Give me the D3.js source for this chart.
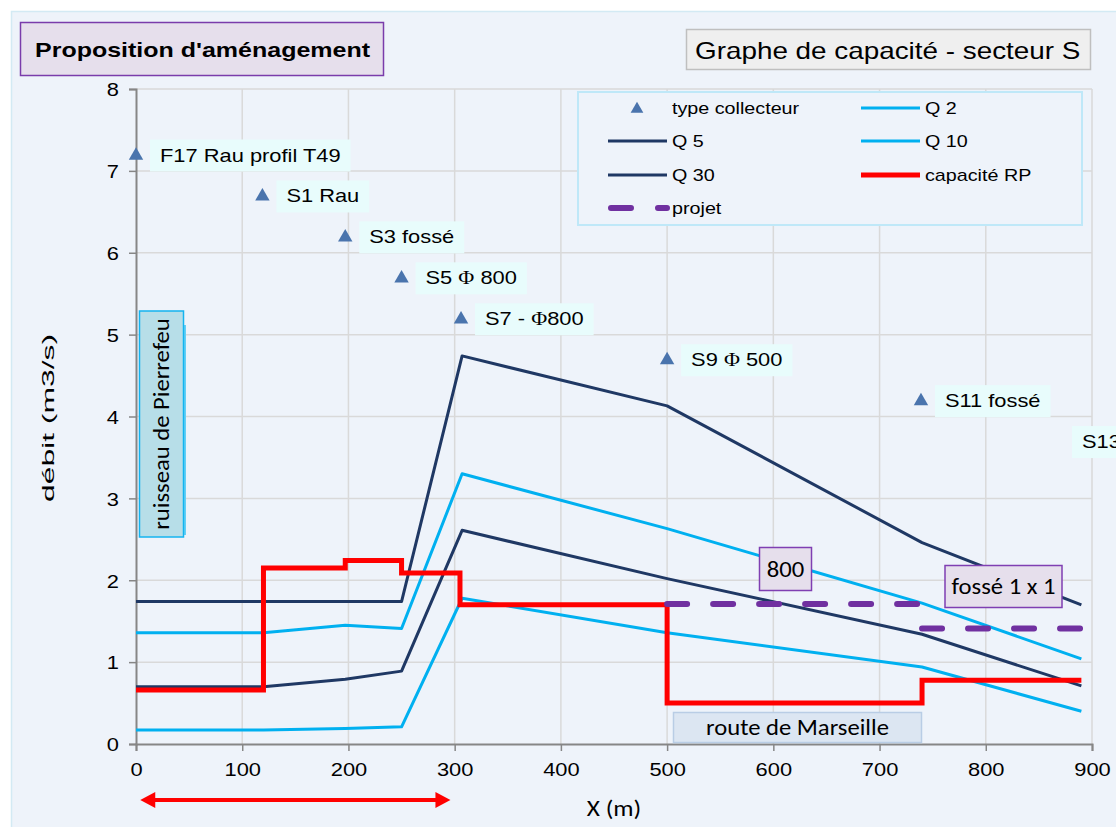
<!DOCTYPE html>
<html>
<head>
<meta charset="utf-8">
<script src="https://cdn.jsdelivr.net/npm/d3@7"></script>
<style>
  body { margin: 0; background: #fff; }
  text { font-family: "Liberation Sans", Arial, sans-serif; }
  .calib { font-family: Carlito, Lato, "Open Sans", sans-serif; }
</style>
</head>
<body>
<svg id="chart" width="1116" height="827"></svg>
<script>
// station abscissas (m) shared by the Q series
const stationX = [0, 120, 197, 250, 307, 500, 740, 890];
const q2  = [0.17, 0.17, 0.19, 0.21, 1.78, 1.36, 0.94, 0.40];
const q5  = [0.70, 0.70, 0.79, 0.89, 2.61, 2.02, 1.34, 0.71];
const q10 = [1.36, 1.36, 1.45, 1.41, 3.30, 2.63, 1.72, 1.04];
const q30 = [1.74, 1.74, 1.74, 1.74, 4.74, 4.13, 2.46, 1.70];

// capacité RP, step after
const capX = [0, 120, 197, 250, 305, 500, 740, 890];
const capY = [0.66, 2.15, 2.24, 2.09, 1.70, 0.50, 0.78, 0.78];

// projet (two dashed pieces)
const projetA = [[500, 1.71], [740, 1.71]];
const projetB = [[740, 1.41], [890, 1.41]];

// type collecteur
const collX = [0, 119, 197, 250, 306, 500, 739];
const collY = [7.2, 6.7, 6.2, 5.7, 5.2, 4.7, 4.2];
const collLabels = ["F17 Rau profil T49", "S1 Rau", "S3 fossé", "S5 Φ 800", "S7 - Φ800", "S9 Φ 500", "S11 fossé"];
// label with no visible marker
const extraLabel = {x: 868, y: 3.7, text: "S13"};

const xTicks = [0, 100, 200, 300, 400, 500, 600, 700, 800, 900];
const yTicks = [0, 1, 2, 3, 4, 5, 6, 7, 8];

const navy = "#1f3864", cyan = "#00b0f0", red = "#ff0000", purple = "#7030a0", tri = "#4a74ad";
const bg = "#eef3fa";

// the reference text runs wider than the local fonts
function stretch(sel, k) {
  sel.each(function() {
    let n = this.getComputedTextLength();
    d3.select(this).attr('textLength', n * k).attr('lengthAdjust', 'spacingAndGlyphs');
  });
  return sel;
}

let svg = d3.select('#chart');

// chart area
svg.append('rect').attr('x', 11.5).attr('y', 11.5).attr('width', 1110).attr('height', 820)
  .attr('fill', bg).attr('stroke', '#d3eaf4').attr('stroke-width', 1.5);

let x = d3.scaleLinear().domain([0, 900]).range([136, 1092]);
let y = d3.scaleLinear().domain([0, 8]).range([744, 89]);

// grid
let grid = svg.append('g');
grid.selectAll('.vg').data(xTicks.slice(1)).enter().append('line')
  .attr('x1', d => x(d)).attr('x2', d => x(d)).attr('y1', y(0)).attr('y2', y(8))
  .attr('stroke', '#d9d9d9').attr('stroke-width', 1.5);
grid.selectAll('.hg').data(yTicks.slice(1)).enter().append('line')
  .attr('x1', x(0)).attr('x2', x(900)).attr('y1', d => y(d)).attr('y2', d => y(d))
  .attr('stroke', '#d9d9d9').attr('stroke-width', 1.5);

// axes
let xAxis = d3.axisBottom(x).tickValues(xTicks).tickSize(7).tickPadding(12);
let gx = svg.append('g').attr('transform', `translate(0, ${y(0)})`).call(xAxis);
let yAxis = d3.axisLeft(y).tickValues(yTicks).tickSize(7).tickPadding(10);
let gy = svg.append('g').attr('transform', `translate(${x(0)}, 0)`).call(yAxis);
[gx, gy].forEach(g => {
  g.select('.domain').attr('stroke', '#868686').attr('stroke-width', 2);
  g.selectAll('.tick line').attr('stroke', '#868686').attr('stroke-width', 1.5);
  g.selectAll('text').style('font-size', '19px').attr('fill', '#000')
    .style('font-family', '"Liberation Sans", Arial, sans-serif');
  stretch(g.selectAll('text'), 1.15);
});
gy.selectAll('text').attr('dy', '0.36em');

// axis titles
svg.append('text').attr('transform', 'translate(54, 418) rotate(-90)')
  .attr('text-anchor', 'middle').style('font-size', '16px')
  .attr('textLength', 168).attr('lengthAdjust', 'spacingAndGlyphs')
  .text('débit (m3/s)');
stretch(svg.append('text').attr('class', 'calib').attr('x', 614).attr('y', 816)
  .attr('text-anchor', 'middle').style('font-size', '22px').text('X (m)'), 1.15);

// legend box
let lg = svg.append('g');
lg.append('rect').attr('x', 578).attr('y', 92).attr('width', 504).attr('height', 133)
  .attr('fill', bg).attr('stroke', '#bfe8f8').attr('stroke-width', 2);
let legendItems = [
  {label: 'type collecteur', kind: 'tri', col: 0, row: 0},
  {label: 'Q 2', color: cyan, w: 3, col: 1, row: 0},
  {label: 'Q 5', color: navy, w: 3, col: 0, row: 1},
  {label: 'Q 10', color: cyan, w: 3, col: 1, row: 1},
  {label: 'Q 30', color: navy, w: 3, col: 0, row: 2},
  {label: 'capacité RP', color: red, w: 5, col: 1, row: 2},
  {label: 'projet', color: purple, w: 6, dash: true, col: 0, row: 3}
];
let rowY = [108, 141, 175, 208];
let colX = [608, 861];
legendItems.forEach(it => {
  let lx = colX[it.col], ly = rowY[it.row];
  if (it.kind === 'tri') {
    lg.append('path').attr('d', d3.symbol(d3.symbolTriangle, 70)())
      .attr('transform', `translate(${lx + 29}, ${ly + 1})`).attr('fill', tri);
  } else {
    let l = lg.append('line').attr('x1', lx + (it.dash ? 3 : 0)).attr('x2', lx + 59)
      .attr('y1', ly).attr('y2', ly).attr('stroke', it.color).attr('stroke-width', it.w);
    if (it.dash) l.attr('stroke-dasharray', '20 27').attr('stroke-linecap', 'round');
  }
  stretch(lg.append('text').attr('x', lx + 64).attr('y', ly + 6).style('font-size', '17px').text(it.label), 1.16);
});

// Q series
let line = d3.line().x(d => x(d[0])).y(d => y(d[1]));
let series = [
  {vals: q2, color: cyan},
  {vals: q5, color: navy},
  {vals: q10, color: cyan},
  {vals: q30, color: navy}
];
series.forEach(s => {
  svg.append('path').datum(stationX.map((v, i) => [v, s.vals[i]]))
    .attr('d', line).attr('fill', 'none').attr('stroke', s.color).attr('stroke-width', 3)
    .attr('stroke-linejoin', 'round');
});

// capacité RP
let stepLine = d3.line().x(d => x(d[0])).y(d => y(d[1])).curve(d3.curveStepAfter);
svg.append('path').datum(capX.map((v, i) => [v, capY[i]]))
  .attr('d', stepLine).attr('fill', 'none').attr('stroke', red).attr('stroke-width', 5);

// projet
[projetA, projetB].forEach(p => {
  svg.append('path').datum(p).attr('d', line).attr('fill', 'none')
    .attr('stroke', purple).attr('stroke-width', 6).attr('stroke-linecap', 'round')
    .attr('stroke-dasharray', '20 26');
});

// collector markers + labels
let collData = collX.map((v, i) => ({x: v, y: collY[i], text: collLabels[i], marker: true}));
collData.push({x: extraLabel.x, y: extraLabel.y, text: extraLabel.text, marker: false});
collData.forEach(d => {
  let px = x(d.x), py = y(d.y);
  if (d.marker) {
    svg.append('path').attr('d', d3.symbol(d3.symbolTriangle, 90)())
      .attr('transform', `translate(${px}, ${py + 1})`).attr('fill', tri);
  }
  let g = svg.append('g');
  let box = g.append('rect').attr('fill', '#e8fcfc');
  let t = g.append('text').attr('x', px + 24).attr('y', py + 7).style('font-size', '19px');
  let parts = d.text.split('Φ');
  parts.forEach((p, i) => {
    if (i > 0) t.append('tspan').style('font-family', '"Liberation Serif", "DejaVu Serif", serif').text('Φ');
    t.append('tspan').text(p);
  });
  let w = t.node().getComputedTextLength() * 1.15;
  t.attr('textLength', w).attr('lengthAdjust', 'spacingAndGlyphs');
  box.attr('x', px + 14).attr('y', py - 15).attr('width', w + 20).attr('height', 32);
});

// annotation boxes
function noteBox(bx, by, bw, bh, fill, stroke, txt, size, sw) {
  svg.append('rect').attr('x', bx).attr('y', by).attr('width', bw).attr('height', bh)
    .attr('fill', fill).attr('stroke', stroke).attr('stroke-width', sw);
  stretch(svg.append('text').attr('class', 'calib').attr('x', bx + bw / 2).attr('y', by + bh / 2 + size * 0.36)
    .attr('text-anchor', 'middle').style('font-size', size + 'px').text(txt), 1.12);
}
noteBox(759.5, 547.5, 52, 43, '#e6dfec', '#7f3fb2', '800', 22, 1.5);
noteBox(945, 565.5, 117, 42, '#e6dfec', '#7f3fb2', 'fossé 1 x 1', 22, 1.5);
noteBox(673.5, 712.5, 248, 30, '#dce6f2', '#b9cde5', 'route de Marseille', 22, 1.5);

// ruisseau de Pierrefeu (vertical)
svg.append('rect').attr('x', 183).attr('y', 325).attr('width', 3).attr('height', 210).attr('fill', '#63d0f6');
svg.append('rect').attr('x', 139.5).attr('y', 311).attr('width', 44).attr('height', 226)
  .attr('fill', '#b7dee8').attr('stroke', '#14b4f0').attr('stroke-width', 1.5);
stretch(svg.append('text').attr('class', 'calib').attr('transform', 'translate(169, 424) rotate(-90)')
  .attr('text-anchor', 'middle').style('font-size', '22px').text('ruisseau de Pierrefeu'), 1.12);

// red double arrow under the axis
const arrowSpan = [4, 296];
let ax0 = x(arrowSpan[0]), ax1 = x(arrowSpan[1]), ay = 800;
svg.append('line').attr('x1', ax0 + 10).attr('x2', ax1 - 10).attr('y1', ay).attr('y2', ay)
  .attr('stroke', red).attr('stroke-width', 4);
svg.append('path').attr('d', `M${ax0},${ay} L${ax0 + 15},${ay - 8} L${ax0 + 15},${ay + 8} Z`).attr('fill', red);
svg.append('path').attr('d', `M${ax1},${ay} L${ax1 - 15},${ay - 8} L${ax1 - 15},${ay + 8} Z`).attr('fill', red);

// titles
svg.append('rect').attr('x', 20.5).attr('y', 22.5).attr('width', 363).attr('height', 53)
  .attr('fill', '#e6dfec').attr('stroke', '#7a3cab').attr('stroke-width', 1.5);
stretch(svg.append('text').attr('x', 35).attr('y', 57).style('font-size', '21px').style('font-weight', 'bold')
  .text("Proposition d'aménagement"), 1.19);
svg.append('rect').attr('x', 686.5).attr('y', 29.5).attr('width', 404).attr('height', 40)
  .attr('fill', '#efefef').attr('stroke', '#bfbfbf').attr('stroke-width', 1.5);
stretch(svg.append('text').attr('x', 695).attr('y', 59).style('font-size', '24px')
  .text('Graphe de capacité - secteur S'), 1.16);
</script>
</body>
</html>
